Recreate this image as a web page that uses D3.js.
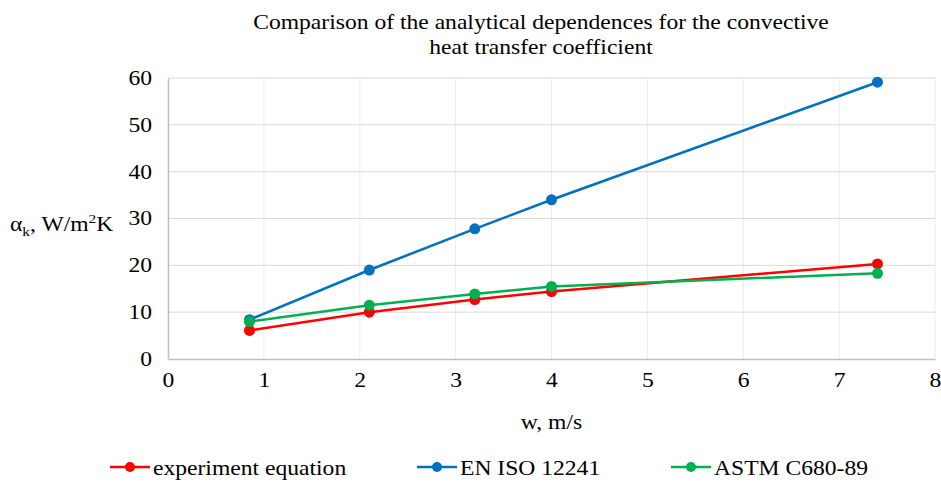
<!DOCTYPE html>
<html>
<head>
<meta charset="utf-8">
<script src="https://cdn.jsdelivr.net/npm/d3@7"></script>
<style>
  body { margin: 0; background: #fff; }
</style>
</head>
<body>
<svg id="chart" width="941" height="483"></svg>
<script>
// data
const speeds = [0.85, 2.1, 3.2, 4.0, 7.4];
const experimentEq = [6.1, 10.0, 12.7, 14.4, 20.3];
const enIso12241 = [8.4, 19.0, 27.8, 34.0, 59.1];
const astmC680 = [8.0, 11.5, 13.9, 15.5, 18.3];
const seriesNames = ["experiment equation", "EN ISO 12241", "ASTM C680-89"];
const seriesColors = ["#ff0000", "#0070c0", "#00b050"];
const xTicks = [0, 1, 2, 3, 4, 5, 6, 7, 8];
const yTicks = [0, 10, 20, 30, 40, 50, 60];

const FONT = '"Liberation Serif", "Times New Roman", serif';
const FS = 20;
// the original text is a bit wider than it is tall
const SX = 1.18;

const svg = d3.select("#chart");
const PLOT = { left: 168, right: 935, top: 78, bottom: 359 };

const x = d3.scaleLinear().domain([0, 8]).range([PLOT.left, PLOT.right]);
const y = d3.scaleLinear().domain([0, 60]).range([PLOT.bottom, PLOT.top]);

// vertical gridlines (lighter)
svg.append("g")
  .selectAll("line")
  .data(xTicks.slice(1))
  .join("line")
  .attr("x1", d => x(d)).attr("x2", d => x(d))
  .attr("y1", PLOT.top).attr("y2", PLOT.bottom)
  .style("stroke", "#ececec")
  .style("stroke-width", 1);

// horizontal gridlines
svg.append("g")
  .selectAll("line")
  .data(yTicks.slice(1))
  .join("line")
  .attr("x1", PLOT.left).attr("x2", PLOT.right)
  .attr("y1", d => y(d)).attr("y2", d => y(d))
  .style("stroke", "#d9d9d9")
  .style("stroke-width", 1);

// axes
const xAxis = svg.append("g")
  .attr("transform", `translate(0,${PLOT.bottom})`)
  .call(d3.axisBottom(x).tickValues(xTicks).tickSize(0).tickPadding(14));
const yAxis = svg.append("g")
  .attr("transform", `translate(${PLOT.left},0)`)
  .call(d3.axisLeft(y).tickValues(yTicks).tickSize(0).tickPadding(16));

[xAxis, yAxis].forEach(a => {
  a.attr("font-family", FONT).attr("font-size", FS);
  a.select(".domain").style("stroke", "#bfbfbf").style("stroke-width", 1.5);
  a.selectAll("text")
    .style("fill", "#000")
    .attr("x", function() { return (+d3.select(this).attr("x") || 0) / SX; })
    .attr("transform", `scale(${SX},1)`);
});

// series
const allSeries = [experimentEq, enIso12241, astmC680];
const line = d3.line().x((d, i) => x(speeds[i])).y(d => y(d));

allSeries.forEach((values, k) => {
  const g = svg.append("g");
  g.append("path")
    .datum(values)
    .attr("d", line)
    .style("fill", "none")
    .style("stroke", seriesColors[k])
    .style("stroke-width", 2.5);
  g.selectAll("circle")
    .data(values)
    .join("circle")
    .attr("cx", (d, i) => x(speeds[i]))
    .attr("cy", d => y(d))
    .attr("r", 5.5)
    .style("fill", seriesColors[k]);
});

// text placed at (px, py), stretched horizontally around that point
function label(parent, px, py) {
  return parent.append("text")
    .attr("transform", `translate(${px},${py}) scale(${SX},1)`)
    .attr("font-family", FONT)
    .attr("font-size", FS)
    .style("fill", "#000");
}

// title
label(svg, 541, 29).attr("text-anchor", "middle")
  .text("Comparison of the analytical dependences for the convective");
label(svg, 541, 54).attr("text-anchor", "middle")
  .text("heat transfer coefficient");

// x axis title
label(svg, x(4), 429).attr("text-anchor", "middle").text("w, m/s");

// y axis title
const yLabel = label(svg, 10, 231);
yLabel.append("tspan").text("α");
yLabel.append("tspan").attr("dy", 5).attr("font-size", 13).text("k");
yLabel.append("tspan").attr("dy", -5).text(", W/m");
yLabel.append("tspan").attr("dy", -8).attr("font-size", 13).text("2");
yLabel.append("tspan").attr("dy", 8).text("K");

// legend
const legendX = [110, 417, 671];
seriesNames.forEach((name, k) => {
  const g = svg.append("g").attr("transform", `translate(${legendX[k]},467)`);
  g.append("line")
    .attr("x1", 0).attr("x2", 40)
    .style("stroke", seriesColors[k])
    .style("stroke-width", 2.5);
  g.append("circle")
    .attr("cx", 20).attr("r", 5)
    .style("fill", seriesColors[k]);
  label(g, 43, 8).text(name);
});
</script>
</body>
</html>
